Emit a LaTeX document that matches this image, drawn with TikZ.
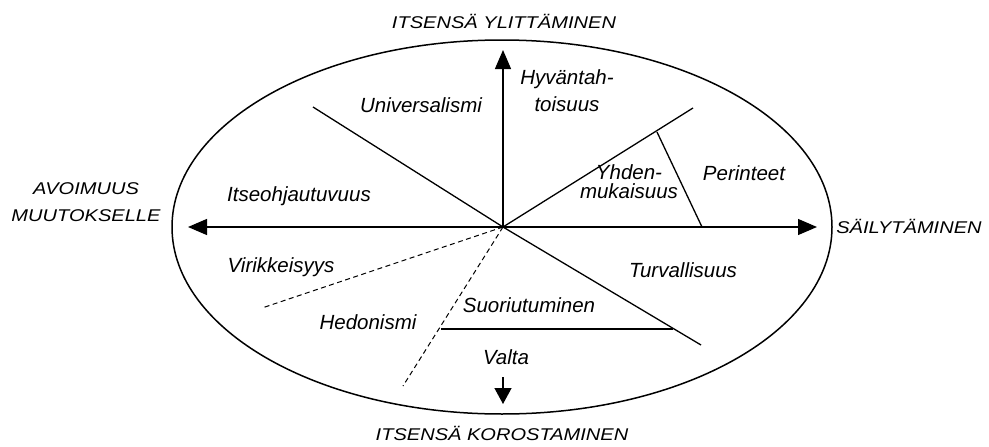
\documentclass[tikz,border=0pt]{standalone}
\usepackage{fontspec}
\setmainfont{Liberation Sans}
\newfontfamily\widefont[FakeStretch=1.18]{Liberation Sans}
\usetikzlibrary{arrows.meta}
\begin{document}
\begin{tikzpicture}[x=1pt,y=-1pt,
  line width=1.3pt,
  lbl/.style={font=\fontsize{20.5}{27}\selectfont\itshape, inner sep=0pt, align=center, anchor=base},
  outer/.style={font=\widefont\fontsize{17}{27}\selectfont\itshape, inner sep=0pt, align=center, anchor=base},
  arr/.style={-{Triangle[length=19pt,width=16pt]}},
  dashline/.style={line width=1pt, dash pattern=on 5pt off 3.5pt}]
\useasboundingbox (0,0) rectangle (989,447);
% ellipse
\draw[line width=1.5pt] (502,227) ellipse [x radius=330, y radius=187];
% coordinates
\coordinate (O) at (503,227);
\coordinate (L) at (188,227);
\coordinate (R) at (817,227);
\coordinate (U) at (503,50);
\coordinate (ul) at (313,107);
\coordinate (ur) at (693,108);
\coordinate (lr) at (701,345);
\coordinate (dl1) at (262,308);
\coordinate (dl2) at (403,386);
\coordinate (p1) at (657,132);
\coordinate (p2) at (702,227);
\coordinate (s1) at (441,329);
\coordinate (s2) at (673,329);
\coordinate (d1) at (503,377);
\coordinate (d2) at (503,404);
% axes
\draw[arr] (O) -- (L);
\draw[arr] (O) -- (R);
\draw[arr] (O) -- (U);
\draw[-{Triangle[length=16pt,width=17pt]}] (d1) -- (d2);
% sector lines
\draw (O) -- (ul);
\draw (O) -- (ur);
\draw (O) -- (lr);
\draw (p1) -- (p2);
\draw (s1) -- (s2);
\draw[dashline] (O) -- (dl1);
\draw[dashline] (O) -- (dl2);
% outer labels
\node[outer] (top) at (504,28.5) {ITSENSÄ YLITTÄMINEN};
\node[outer] (bot) at (502,440) {ITSENSÄ KOROSTAMINEN};
\node[outer] (left) at (86,221) {AVOIMUUS\\MUUTOKSELLE};
\node[outer] (right) at (909,233) {SÄILYTÄMINEN};
% inner labels
\node[lbl] (uni) at (421,112) {Universalismi};
\node[lbl] (hyv) at (567,111) {Hyväntah-\\toisuus};
\node[lbl] (its) at (299,201) {Itseohjautuvuus};
\node[lbl, font=\fontsize{20.5}{19}\selectfont\itshape] (yhd) at (629,198) {Yhden-\\mukaisuus};
\node[lbl] (per) at (744,180) {Perinteet};
\node[lbl] (tur) at (683,277) {Turvallisuus};
\node[lbl] (vir) at (281,272) {Virikkeisyys};
\node[lbl] (suo) at (529,312) {Suoriutuminen};
\node[lbl] (hed) at (368,329) {Hedonismi};
\node[lbl] (val) at (506,364) {Valta};
\end{tikzpicture}
\end{document}
